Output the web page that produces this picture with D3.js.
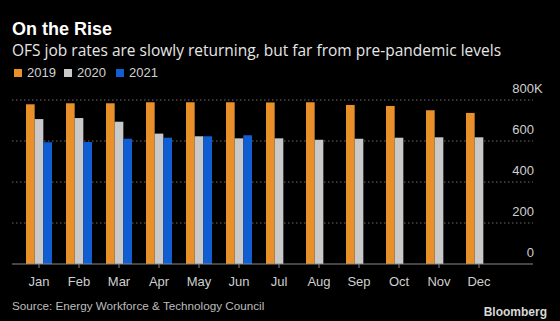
<!DOCTYPE html>
<html>
  <head>
    <script src="https://d3js.org/d3.v7.min.js"></script>
    <style>
      body { margin: 0; background: #000; }
      text { font-family: "Liberation Sans", Arial, sans-serif; }
    </style>
  </head>
  <body>
    <script>

    const months = ["Jan", "Feb", "Mar", "Apr", "May", "Jun", "Jul", "Aug", "Sep", "Oct", "Nov", "Dec"];
    const years = ["2019", "2020", "2021"];
    // job counts in thousands
    const jobs2019 = [779, 784, 784, 789, 789, 789, 788, 789, 776, 771, 750, 737];
    const jobs2020 = [707, 712, 694, 636, 623, 613, 613, 606, 611, 616, 618, 618];
    const jobs2021 = [594, 595, 611, 616, 623, 628];
    const yTicks = [0, 200, 400, 600, 800];

    const colors = { "2019": "#e8912b", "2020": "#c9c9c9", "2021": "#0f5fd3" };

    const width = 560, height = 321;

    const svg = d3.select("body").append("svg")
        .attr("width", width)
        .attr("height", height)
        .style("background", "#000");

    const x = d3.scaleBand()
        .domain(months)
        .range([19, 499])
        .paddingInner(0.35)
        .paddingOuter(0.175);

    const xs = d3.scaleBand()
        .domain(years)
        .range([0, x.bandwidth()]);

    const y = d3.scaleLinear()
        .domain([0, 800])
        .range([264, 100]);

    // title block
    svg.append("text")
        .attr("x", 12).attr("y", 35)
        .attr("fill", "#fff")
        .style("font-size", "18px")
        .style("font-weight", "bold")
        .text("On the Rise");

    svg.append("text")
        .attr("x", 12).attr("y", 56)
        .attr("fill", "#e6e6e6")
        .style("font-family", "'Open Sans', sans-serif")
        .style("font-size", "15.5px")
        .text("OFS job rates are slowly returning, but far from pre-pandemic levels");

    // legend
    const legendX = [14, 64, 116];
    const legend = svg.append("g").selectAll("g")
      .data(years)
      .join("g")
        .attr("transform", (d, i) => `translate(${legendX[i]},69)`);
    legend.append("rect")
        .attr("width", 8).attr("height", 8)
        .attr("fill", d => colors[d]);
    legend.append("text")
        .attr("x", 13).attr("y", 8)
        .attr("fill", "#d0d0d0")
        .style("font-size", "13px")
        .text(d => d);

    // gridlines
    svg.append("g").selectAll("line")
      .data(yTicks.filter(d => d > 0))
      .join("line")
        .attr("x1", 12).attr("x2", 533)
        .attr("y1", d => y(d)).attr("y2", d => y(d))
        .attr("stroke", "#6a6a6a")
        .attr("stroke-width", 1)
        .attr("stroke-dasharray", "1.5,2.5");

    // y labels sit above their gridlines, on the right
    svg.append("g").selectAll("text")
      .data(yTicks)
      .join("text")
        .attr("x", 534)
        .attr("y", d => y(d) - 7)
        .attr("text-anchor", "end")
        .attr("fill", "#cfcfcf")
        .style("font-size", "13px")
        .text(d => d);
    svg.append("text")
        .attr("x", 534).attr("y", y(800) - 7)
        .attr("fill", "#cfcfcf")
        .style("font-size", "13px")
        .text("K");

    // bars
    const series = [jobs2019, jobs2020, jobs2021];
    years.forEach((yr, k) => {
      svg.append("g").selectAll("rect")
        .data(series[k].map((v, i) => ({ month: months[i], value: v })))
        .join("rect")
          .attr("x", d => x(d.month) + xs(yr))
          .attr("width", xs.bandwidth())
          .attr("y", d => y(d.value))
          .attr("height", d => y(0) - y(d.value))
          .attr("fill", colors[yr]);
    });

    // x axis
    const xAxis = svg.append("g")
        .attr("transform", `translate(0,${y(0)})`);
    xAxis.append("line")
        .attr("x1", 12).attr("x2", 533)
        .attr("stroke", "#8a8a8a")
        .attr("stroke-width", 1.2);
    xAxis.selectAll(".tick")
      .data(months)
      .join("line")
        .attr("x1", d => x(d) + x.bandwidth() / 2)
        .attr("x2", d => x(d) + x.bandwidth() / 2)
        .attr("y1", 0).attr("y2", 4)
        .attr("stroke", "#8a8a8a");
    xAxis.selectAll("text")
      .data(months)
      .join("text")
        .attr("x", d => x(d) + x.bandwidth() / 2)
        .attr("y", 22)
        .attr("text-anchor", "middle")
        .attr("fill", "#cfcfcf")
        .style("font-size", "13px")
        .text(d => d);

    // footer
    svg.append("text")
        .attr("x", 12).attr("y", 310)
        .attr("fill", "#bdbdbd")
        .style("font-size", "11.7px")
        .text("Source: Energy Workforce & Technology Council");

    svg.append("text")
        .attr("x", 547).attr("y", 316)
        .attr("text-anchor", "end")
        .attr("fill", "#d8d8d8")
        .style("font-size", "12px")
        .style("font-weight", "bold")
        .text("Bloomberg");

    </script>
  </body>
</html>
